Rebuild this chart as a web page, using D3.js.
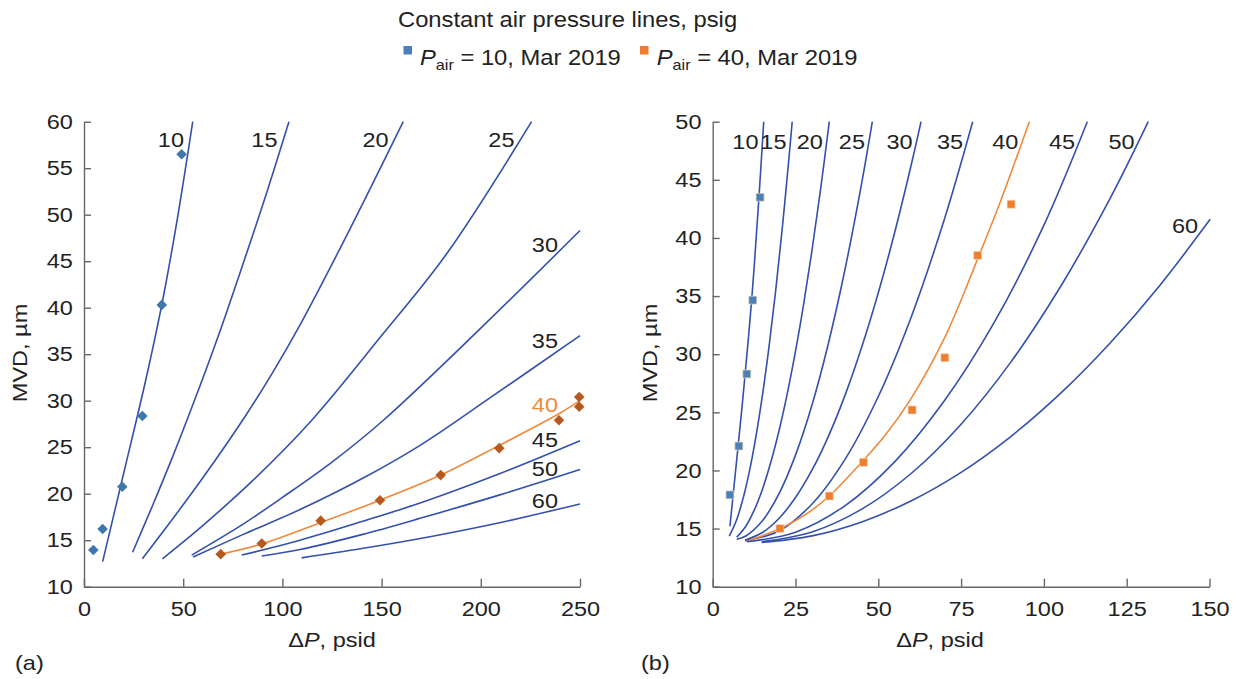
<!DOCTYPE html>
<html><head><meta charset="utf-8">
<script src="https://cdn.jsdelivr.net/npm/d3@7"></script>
<style>body{margin:0;background:#fff}svg{display:block}</style>
</head><body>
<svg id="c" width="1239" height="679"></svg>
<script>
// ---------- DATA ----------
const pressureLabels = ["10","15","20","25","30","35","40","45","50","60"];
const xTicksA = [0,50,100,150,200,250];
const yTicksA = [10,15,20,25,30,35,40,45,50,55,60];
const xTicksB = [0,25,50,75,100,125,150];
const yTicksB = [10,15,20,25,30,35,40,45,50];

// Panel (a): constant air pressure lines [ΔP psid, MVD µm]
const curveA10 = [[9.4,12.7],[20,22.2],[31.1,32.2],[39.2,40.3],[47,49.5],[54.8,60]];
const curveA15 = [[24.5,13.7],[35,18.95],[45,24.15],[55.9,30.15],[68,37.15],[80.3,44.8],[92,52.3],[103.3,60]];
const curveA20 = [[29.4,13.0],[43.3,16.9],[60,21.74],[81.1,28.28],[95,33.0],[108.9,38.15],[134.1,48.48],[160.9,60]];
const curveA25 = [[39.5,13.0],[60,16.6],[85,21.4],[114.8,27.9],[150,37.0],[182.8,45.8],[225.6,60]];
const curveA30 = [[54.3,13.4],[80,16.7],[100,19.6],[125,23.4],[150.9,27.9],[200,37.8],[250,48.3]];
const curveA35 = [[55,13.2],[80,15.6],[110,18.4],[140,21.6],[169.4,25.2],[204.6,30.3],[250,37.0]];
const curveA40 = [[68.9,13.5],[89.6,14.6],[119.3,16.9],[149.2,19.3],[179.8,22.0],[209.3,25.2],[239.4,28.6],[250,30.0]];
const curveA45 = [[79.5,13.4],[108.9,15.0],[140,17.0],[169.4,19.0],[210,22.2],[250,25.7]];
const curveA50 = [[89.6,13.3],[108.9,14.0],[140,15.6],[169.4,17.35],[210,19.9],[250,22.6]];
const curveA60 = [[109.7,13.1],[140,14.1],[175,15.4],[210,16.9],[250,18.9]];
// Panel (a) measurements
const pointsA10 = [[4.7,13.95],[9.4,16.2],[19.3,20.75],[29.4,28.35],[39.2,40.3],[49.2,56.5]];
const pointsA40 = [[68.9,13.5],[89.6,14.65],[119.3,17.1],[149.2,19.3],[179.8,22.0],[209.3,24.9],[239.4,27.9],[249.6,29.35],[249.6,30.4]];

// Panel (b)
const curveB10 = [[5.2,15.2],[7.1,20.5],[9.06,26.05],[11.76,34.65],[13.91,43.25],[15.4,50]];
const curveB15 = [[5,14.35],[7,15.58],[9,17.41],[11,19.82],[13,22.83],[15,26.44],[17,30.63],[19,35.42],[21,40.82],[23,46.79],[24,50]];
const curveB20 = [[7.25,14.25],[10,15.2],[12.5,16.56],[15,18.37],[17.5,20.66],[20,23.39],[22.5,26.59],[25,30.26],[27.5,34.38],[30,38.97],[32.5,44.03],[35.2,50]];
const curveB25 = [[7.25,14.08],[10,14.36],[15,15.67],[20,17.99],[25,21.32],[30,25.65],[35,31.01],[40,37.37],[45,44.74],[48.2,50]];
const curveB30 = [[9.75,14.0],[15,14.66],[20,15.87],[25,17.67],[30,20.04],[35,22.98],[40,26.5],[45,30.61],[50,35.28],[55,40.53],[60,46.36],[62.9,50]];
const curveB35 = [[9.75,13.96],[20,14.79],[30,17.12],[40,20.98],[50,26.36],[60,33.25],[70,41.66],[78.5,50]];
const curveB40 = [[10.3,13.9],[20.3,15.0],[28,16.2],[35.2,17.8],[44,20.4],[52,23.0],[59.6,26.05],[70,31.4],[80,38.2],[86.7,43.0],[95.6,50]];
const curveB45 = [[10.3,13.87],[25,14.69],[40,16.98],[55,20.76],[70,26.01],[85,32.73],[100,41.1],[113.1,50]];
const curveB50 = [[14.8,13.87],[30,14.71],[45,16.67],[60,19.76],[75,23.98],[90,29.32],[105,35.8],[120,43.4],[131.5,50]];
const curveB60 = [[14.8,13.8],[30,14.37],[45,15.57],[60,17.4],[75,19.84],[90,22.92],[105,26.63],[120,30.97],[135,35.92],[150.2,41.6]];
// Panel (b) measurements
const pointsB10 = [[5.2,17.9],[7.9,22.1],[10.3,28.3],[12.1,34.65],[14.3,43.5]];
const pointsB40 = [[20.3,15.0],[35.2,17.8],[45.5,20.7],[60.2,25.2],[70.1,29.7],[80.0,38.5],[90.1,42.9]];

const legendTitle = "Constant air pressure lines, psig";
const legendItems = ["10, Mar 2019", "40, Mar 2019"];

// ---------- STYLE ----------
const FONT = "'Liberation Sans', Arial, Helvetica, sans-serif";
const SX = 1.12;
const BLUE_LINE = "#3350ad";
const ORANGE_LINE = "#ef8a3c";
const BLUE_PT = "#3e78ab";
const BROWN_PT = "#b5591f";
const BLUE_SQ = "#4a80b8";
const ORANGE_SQ = "#ed7d31";
const AXIS = "#666";
const TXT = "#222";

const svg = d3.select("#c");
svg.append("rect").attr("width",1239).attr("height",679).attr("fill","#fff");

function xAtY(pts, yv){
  for (let i=1;i<pts.length;i++){
    const a=pts[i-1], b=pts[i];
    if ((yv>=a[1] && yv<=b[1])) return a[0]+(b[0]-a[0])*(yv-a[1])/(b[1]-a[1]);
  }
  return pts[pts.length-1][0];
}

function drawPanel(o){
  const x = d3.scaleLinear().domain(o.xDom).range(o.xRange);
  const y = d3.scaleLinear().domain(o.yDom).range(o.yRange);
  const g = svg.append("g");

  const gx = g.append("g").attr("transform",`translate(0,${o.yRange[0]})`)
    .call(d3.axisBottom(x).tickValues(o.xTicks).tickSizeInner(-8).tickSizeOuter(0).tickPadding(14));
  const gy = g.append("g").attr("transform",`translate(${o.xRange[0]},0)`)
    .call(d3.axisLeft(y).tickValues(o.yTicks).tickSizeInner(-7).tickSizeOuter(0).tickPadding(10));
  [gx,gy].forEach(a=>{
    a.attr("font-family",null).attr("font-size",null);
    a.selectAll("line,path").attr("stroke",AXIS).attr("stroke-width",1.4);
    a.selectAll("text").attr("font-family",FONT).attr("font-size",21).attr("fill",TXT)
      .attr("transform",`scale(${SX},1)`);
  });

  const line = d3.line().x(d=>x(d[0])).y(d=>y(d[1])).curve(d3.curveCatmullRom.alpha(0.5));
  o.curves.forEach((c,i)=>{
    g.append("path").attr("d",line(c)).attr("fill","none")
      .attr("stroke", o.orangeIdx===i ? ORANGE_LINE : BLUE_LINE)
      .attr("stroke-width",1.6);
  });

  // curve labels
  o.curves.forEach((c,i)=>{
    const last = c[c.length-1];
    let lx, ly;
    if (last[1] >= o.yDom[1]-0.01){
      const cy = o.labelTopY;
      lx = x(xAtY(c, y.invert(cy))) - o.labelGap;
      ly = cy + 7.5;
    } else {
      const off = o.sideOff[i] || [22,0];
      lx = x(last[0]) - off[0];
      ly = y(last[1]) + 7.5 + off[1];
    }
    g.append("text").attr("transform",`translate(${lx},${ly}) scale(${SX},1)`)
      .attr("text-anchor","end").attr("font-family",FONT).attr("font-size",21)
      .attr("fill", o.orangeIdx===i && o.orangeLabel ? ORANGE_LINE : TXT)
      .text(pressureLabels[i]);
  });

  // markers
  o.markers.forEach(m=>{
    g.append("g").selectAll("path").data(m.data).join("path")
      .attr("transform",d=>`translate(${x(d[0])},${y(d[1])})`)
      .attr("d", m.shape==="diamond" ? "M0,-5.3L5.3,0L0,5.3L-5.3,0Z" : "M-4,-4H4V4H-4Z")
      .attr("fill",m.color)
      .attr("stroke", m.shape==="diamond" ? "none" : "#f3dcb8").attr("stroke-width",0.7);
  });

  // axis titles
  g.append("text").attr("transform",`translate(${o.yTitleX},353) rotate(-90) scale(${SX},1)`)
    .attr("text-anchor","middle").attr("font-family",FONT).attr("font-size",21).attr("fill",TXT)
    .text("MVD, µm");
  const xt = g.append("text").attr("transform",`translate(${o.xTitleX},647) scale(${SX},1)`)
    .attr("text-anchor","middle").attr("font-family",FONT).attr("font-size",21).attr("fill",TXT);
  xt.append("tspan").text("Δ");
  xt.append("tspan").attr("font-style","italic").text("P");
  xt.append("tspan").text(", psid");

  g.append("text").attr("transform",`translate(${o.tagX},670) scale(${SX},1)`)
    .attr("font-family",FONT).attr("font-size",21).attr("fill",TXT).text(o.tag);
}

drawPanel({
  xDom:[0,250], xRange:[84,580], yDom:[10,60], yRange:[586.7,121.7],
  xTicks:xTicksA, yTicks:yTicksA,
  curves:[curveA10,curveA15,curveA20,curveA25,curveA30,curveA35,curveA40,curveA45,curveA50,curveA60],
  orangeIdx:6, orangeLabel:true,
  labelTopY:139, labelGap:6,
  sideOff:{4:[22,14],5:[22,5],6:[22,4],7:[22,-1],8:[22,-1],9:[22,-3]},
  markers:[{data:pointsA10,color:BLUE_PT,shape:"diamond"},{data:pointsA40,color:BROWN_PT,shape:"diamond"}],
  yTitleX:27, xTitleX:332, tagX:15, tag:"(a)"
});

drawPanel({
  xDom:[0,150], xRange:[712.7,1209.5], yDom:[10,50], yRange:[586.7,121.7],
  xTicks:xTicksB, yTicks:yTicksB,
  curves:[curveB10,curveB15,curveB20,curveB25,curveB30,curveB35,curveB40,curveB45,curveB50,curveB60],
  orangeIdx:6, orangeLabel:false,
  labelTopY:141, labelGap:4,
  sideOff:{9:[12,6]},
  markers:[{data:pointsB10,color:BLUE_SQ,shape:"square"},{data:pointsB40,color:ORANGE_SQ,shape:"square"}],
  yTitleX:657, xTitleX:940, tagX:641, tag:"(b)"
});

// ---------- LEGEND ----------
const LS = 1.08;
svg.append("text").attr("transform",`translate(398,27) scale(${LS},1)`)
  .attr("font-family",FONT).attr("font-size",22).attr("fill",TXT).text(legendTitle);
const legX = [[403.5,420],[640,656.7]];
const legC = [BLUE_SQ, ORANGE_SQ];
legendItems.forEach((t,i)=>{
  svg.append("rect").attr("x",legX[i][0]).attr("y",46).attr("width",8.5).attr("height",8.5).attr("fill",legC[i]);
  const tx = svg.append("text").attr("transform",`translate(${legX[i][1]},65) scale(${LS},1)`)
    .attr("font-family",FONT).attr("font-size",22).attr("fill",TXT);
  tx.append("tspan").attr("font-style","italic").text("P");
  tx.append("tspan").attr("font-size",15).attr("dy",5).text("air");
  tx.append("tspan").attr("dy",-5).text(" = " + t);
});
</script>
</body></html>
